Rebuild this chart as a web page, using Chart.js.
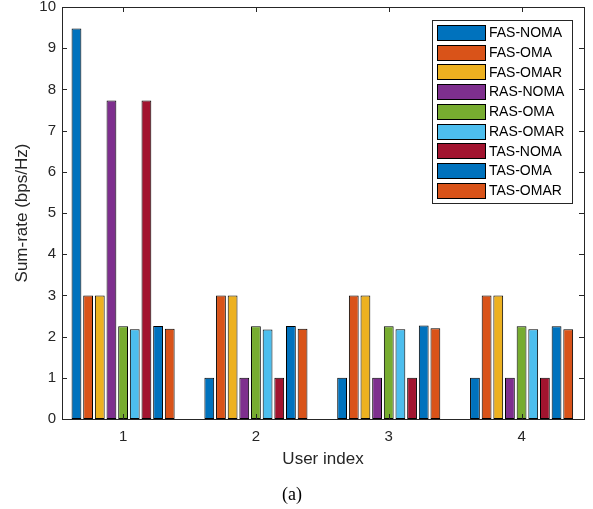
<!DOCTYPE html>
<html>
<head>
<meta charset="utf-8">
<script src="https://cdn.jsdelivr.net/npm/chart.js@4/dist/chart.umd.min.js"></script>
<style>
  body { margin: 0; background: #fff; }
  #wrap { width: 593px; height: 509px; }
</style>
</head>
<body>
<div id="wrap"><canvas id="barChart" width="593" height="509"></canvas></div>
<script>
const users = [1, 2, 3, 4];
const seriesNames = ["FAS-NOMA", "FAS-OMA", "FAS-OMAR", "RAS-NOMA", "RAS-OMA", "RAS-OMAR", "TAS-NOMA", "TAS-OMA", "TAS-OMAR"];
const fasNoma = [9.48, 1, 1, 1];
const fasOma  = [3, 3, 3, 3];
const fasOmar = [3, 3, 3, 3];
const rasNoma = [7.73, 1, 1, 1];
const rasOma  = [2.25, 2.25, 2.25, 2.25];
const rasOmar = [2.18, 2.17, 2.18, 2.18];
const tasNoma = [7.73, 1, 1, 1];
const tasOma  = [2.26, 2.26, 2.27, 2.25];
const tasOmar = [2.19, 2.19, 2.20, 2.18];
const yTicks = [0, 1, 2, 3, 4, 5, 6, 7, 8, 9, 10];

const seriesValues = [fasNoma, fasOma, fasOmar, rasNoma, rasOma, rasOmar, tasNoma, tasOma, tasOmar];
const colors = ["#0072BD", "#D95319", "#EDB120", "#7E2F8E", "#77AC30", "#4DBEEE", "#A2142F", "#0072BD", "#D95319"];
const textColor = "#262626";
const sans = "'Liberation Sans', Arial, sans-serif";

// MATLAB-like box with inward ticks on all four sides, plus the legend inside the axes
const boxTicks = {
  id: "boxTicks",
  afterDatasetsDraw(chart) {
    const {ctx, chartArea: a, scales: {x, y}} = chart;
    const len = 5;
    ctx.save();
    ctx.strokeStyle = textColor;
    ctx.lineWidth = 1;
    ctx.beginPath();
    x.ticks.forEach(t => {
      const px = Math.round(x.getPixelForValue(t.value)) + 0.5;
      ctx.moveTo(px, a.bottom); ctx.lineTo(px, a.bottom - len);
      ctx.moveTo(px, a.top); ctx.lineTo(px, a.top + len);
    });
    y.ticks.forEach(t => {
      const py = Math.round(y.getPixelForValue(t.value)) + 0.5;
      ctx.moveTo(a.left, py); ctx.lineTo(a.left + len, py);
      ctx.moveTo(a.right, py); ctx.lineTo(a.right - len, py);
    });
    ctx.stroke();
    ctx.strokeRect(Math.round(a.left) + 0.5, Math.round(a.top) + 0.5, Math.round(a.width), Math.round(a.height));

    // legend
    const ds = chart.data.datasets;
    const lx = 432, ly = 20, lw = 140, lh = 183;
    ctx.fillStyle = "#fff";
    ctx.fillRect(lx, ly, lw, lh);
    ctx.strokeRect(lx + 0.5, ly + 0.5, lw, lh);
    ctx.font = "14px " + sans;
    ctx.textBaseline = "middle";
    ds.forEach((d, i) => {
      const cy = 32.5 + i * 19.7;
      ctx.fillStyle = d.backgroundColor;
      ctx.fillRect(437, Math.round(cy - 7.5), 48, 15);
      ctx.strokeStyle = "#000";
      ctx.strokeRect(437.5, Math.round(cy - 7.5) + 0.5, 48, 15);
      ctx.fillStyle = "#000";
      ctx.fillText(d.label, 489, cy + 1);
    });
    ctx.restore();
  }
};

new Chart(document.getElementById("barChart"), {
  type: "bar",
  data: {
    datasets: seriesNames.map((name, k) => ({
      label: name,
      data: users.map((u, i) => ({x: u, y: seriesValues[k][i]})),
      backgroundColor: colors[k],
      borderColor: "#000",
      borderWidth: 1,
      borderSkipped: false,
      categoryPercentage: 0.79,
      barPercentage: 0.84
    }))
  },
  options: {
    responsive: false,
    animation: false,
    layout: { padding: { left: 0, right: 9, top: 0, bottom: 0 } },
    plugins: {
      legend: { display: false },
      tooltip: { enabled: false },
      subtitle: {
        display: true,
        position: "bottom",
        text: "(a)",
        color: "#000",
        font: { family: "'Liberation Serif', 'Times New Roman', serif", size: 18, weight: "normal" },
        padding: { top: 0, bottom: 3 }
      }
    },
    scales: {
      x: {
        type: "linear",
        min: 0.54,
        max: 4.47,
        offset: false,
        grid: { display: false, drawTicks: false, offset: false },
        border: { display: false },
        afterBuildTicks: s => { s.ticks = users.map(v => ({value: v})); },
        afterFit: s => { s.height = 65.4; s.paddingLeft = 0; s.paddingRight = 0; },
        ticks: {
          color: textColor,
          padding: 9,
          maxRotation: 0,
          font: { family: sans, size: 15 },
          callback: v => String(v)
        },
        title: {
          display: true,
          text: "User index",
          color: textColor,
          font: { family: sans, size: 17 },
          padding: { top: 0, bottom: 15 }
        }
      },
      y: {
        min: 0,
        max: 10,
        grid: { display: false, drawTicks: false },
        border: { display: false },
        afterBuildTicks: s => { s.ticks = yTicks.map(v => ({value: v})); },
        afterFit: s => { s.width = 62; s.paddingTop = 7; s.paddingBottom = 0; },
        ticks: {
          color: textColor,
          padding: 6,
          font: { family: sans, size: 15 }
        },
        title: {
          display: true,
          text: "Sum-rate (bps/Hz)",
          color: textColor,
          font: { family: sans, size: 17 },
          padding: { top: 12, bottom: 0 }
        }
      }
    }
  },
  plugins: [boxTicks]
});
</script>
</body>
</html>
